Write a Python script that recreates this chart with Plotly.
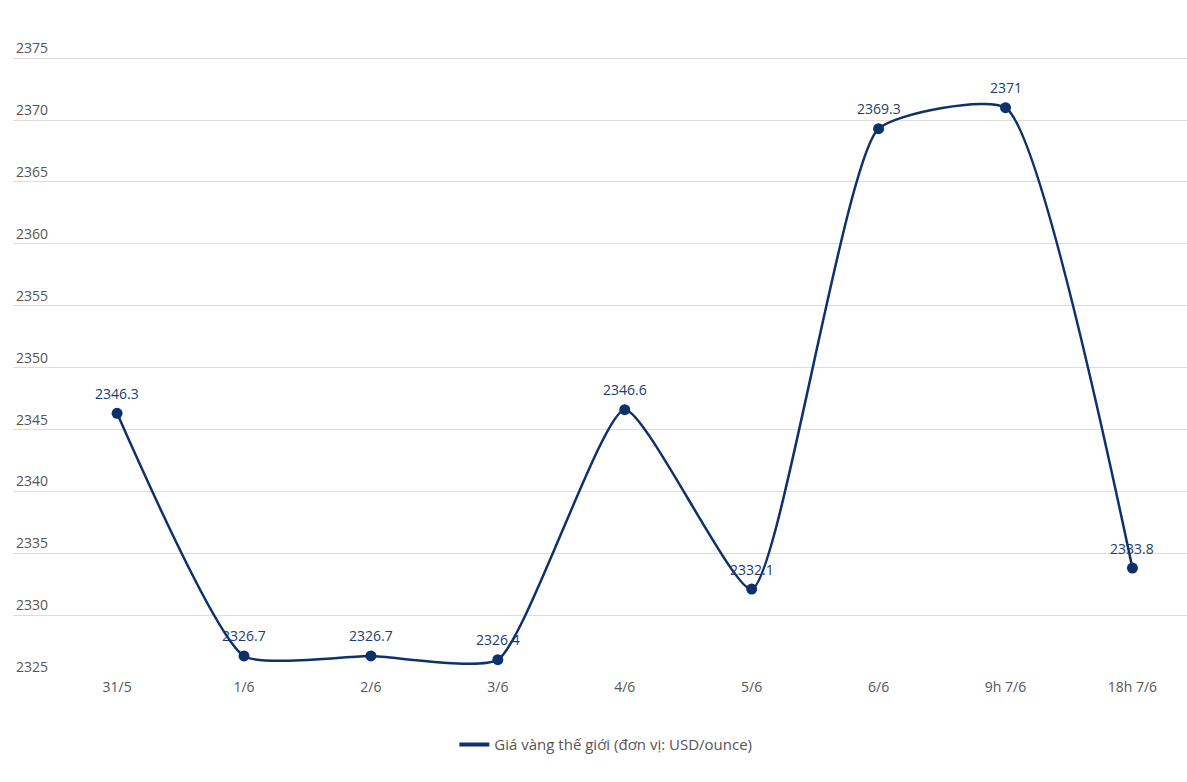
import plotly.graph_objects as go

categories = ["31/5", "1/6", "2/6", "3/6", "4/6", "5/6", "6/6", "9h 7/6", "18h 7/6"]
prices = [2346.3, 2326.7, 2326.7, 2326.4, 2346.6, 2332.1, 2369.3, 2371, 2333.8]
labels = ["2346.3", "2326.7", "2326.7", "2326.4", "2346.6", "2332.1", "2369.3", "2371", "2333.8"]
series_name = "Giá vàng thế giới (đơn vị: USD/ounce)"
y_ticks = [2325, 2330, 2335, 2340, 2345, 2350, 2355, 2360, 2365, 2370, 2375]

navy = "#0c316b"
xs = list(range(len(categories)))

fig = go.Figure()
fig.add_trace(go.Scatter(
    x=xs,
    y=prices,
    mode="lines+markers",
    name=series_name,
    showlegend=False,
    line=dict(color=navy, width=2.5, shape="spline", smoothing=0.5),
    marker=dict(color=navy, size=11),
    cliponaxis=False,
))
# legend-only entry (line symbol, no marker)
fig.add_trace(go.Scatter(
    x=[None], y=[None],
    mode="lines",
    name=series_name,
    line=dict(color=navy, width=4),
    showlegend=True,
))

for xv, yv, lab in zip(xs, prices, labels):
    fig.add_annotation(x=xv, y=yv, text=lab, showarrow=False,
                       yshift=20, font=dict(family="Open Sans", size=14, color="#1c3c6e"))

fig.update_layout(
    width=1187, height=782,
    margin=dict(l=13, r=0, t=21, b=105),
    paper_bgcolor="white",
    plot_bgcolor="white",
    font=dict(family="Open Sans", size=14, color="#555555"),
    showlegend=True,
    legend=dict(orientation="h", x=0.505, xanchor="center", y=-0.078, yanchor="top",
                font=dict(family="Open Sans", size=15, color="#555555")),
    xaxis=dict(
        tickmode="array",
        tickvals=xs,
        ticktext=categories,
        range=[-0.82, 8.43],
        showgrid=False,
        zeroline=False,
        showline=False,
        ticks="",
        tickfont=dict(size=14, color="#555555"),
    ),
    yaxis=dict(
        range=[2325, 2378],
        tickvals=y_ticks,
        ticklabelposition="inside top",
        showgrid=True,
        gridcolor="#dddddd",
        gridwidth=1,
        zeroline=False,
        showline=False,
        ticks="",
        tickfont=dict(size=14, color="#555555"),
    ),
)

fig.write_html("out.html")
